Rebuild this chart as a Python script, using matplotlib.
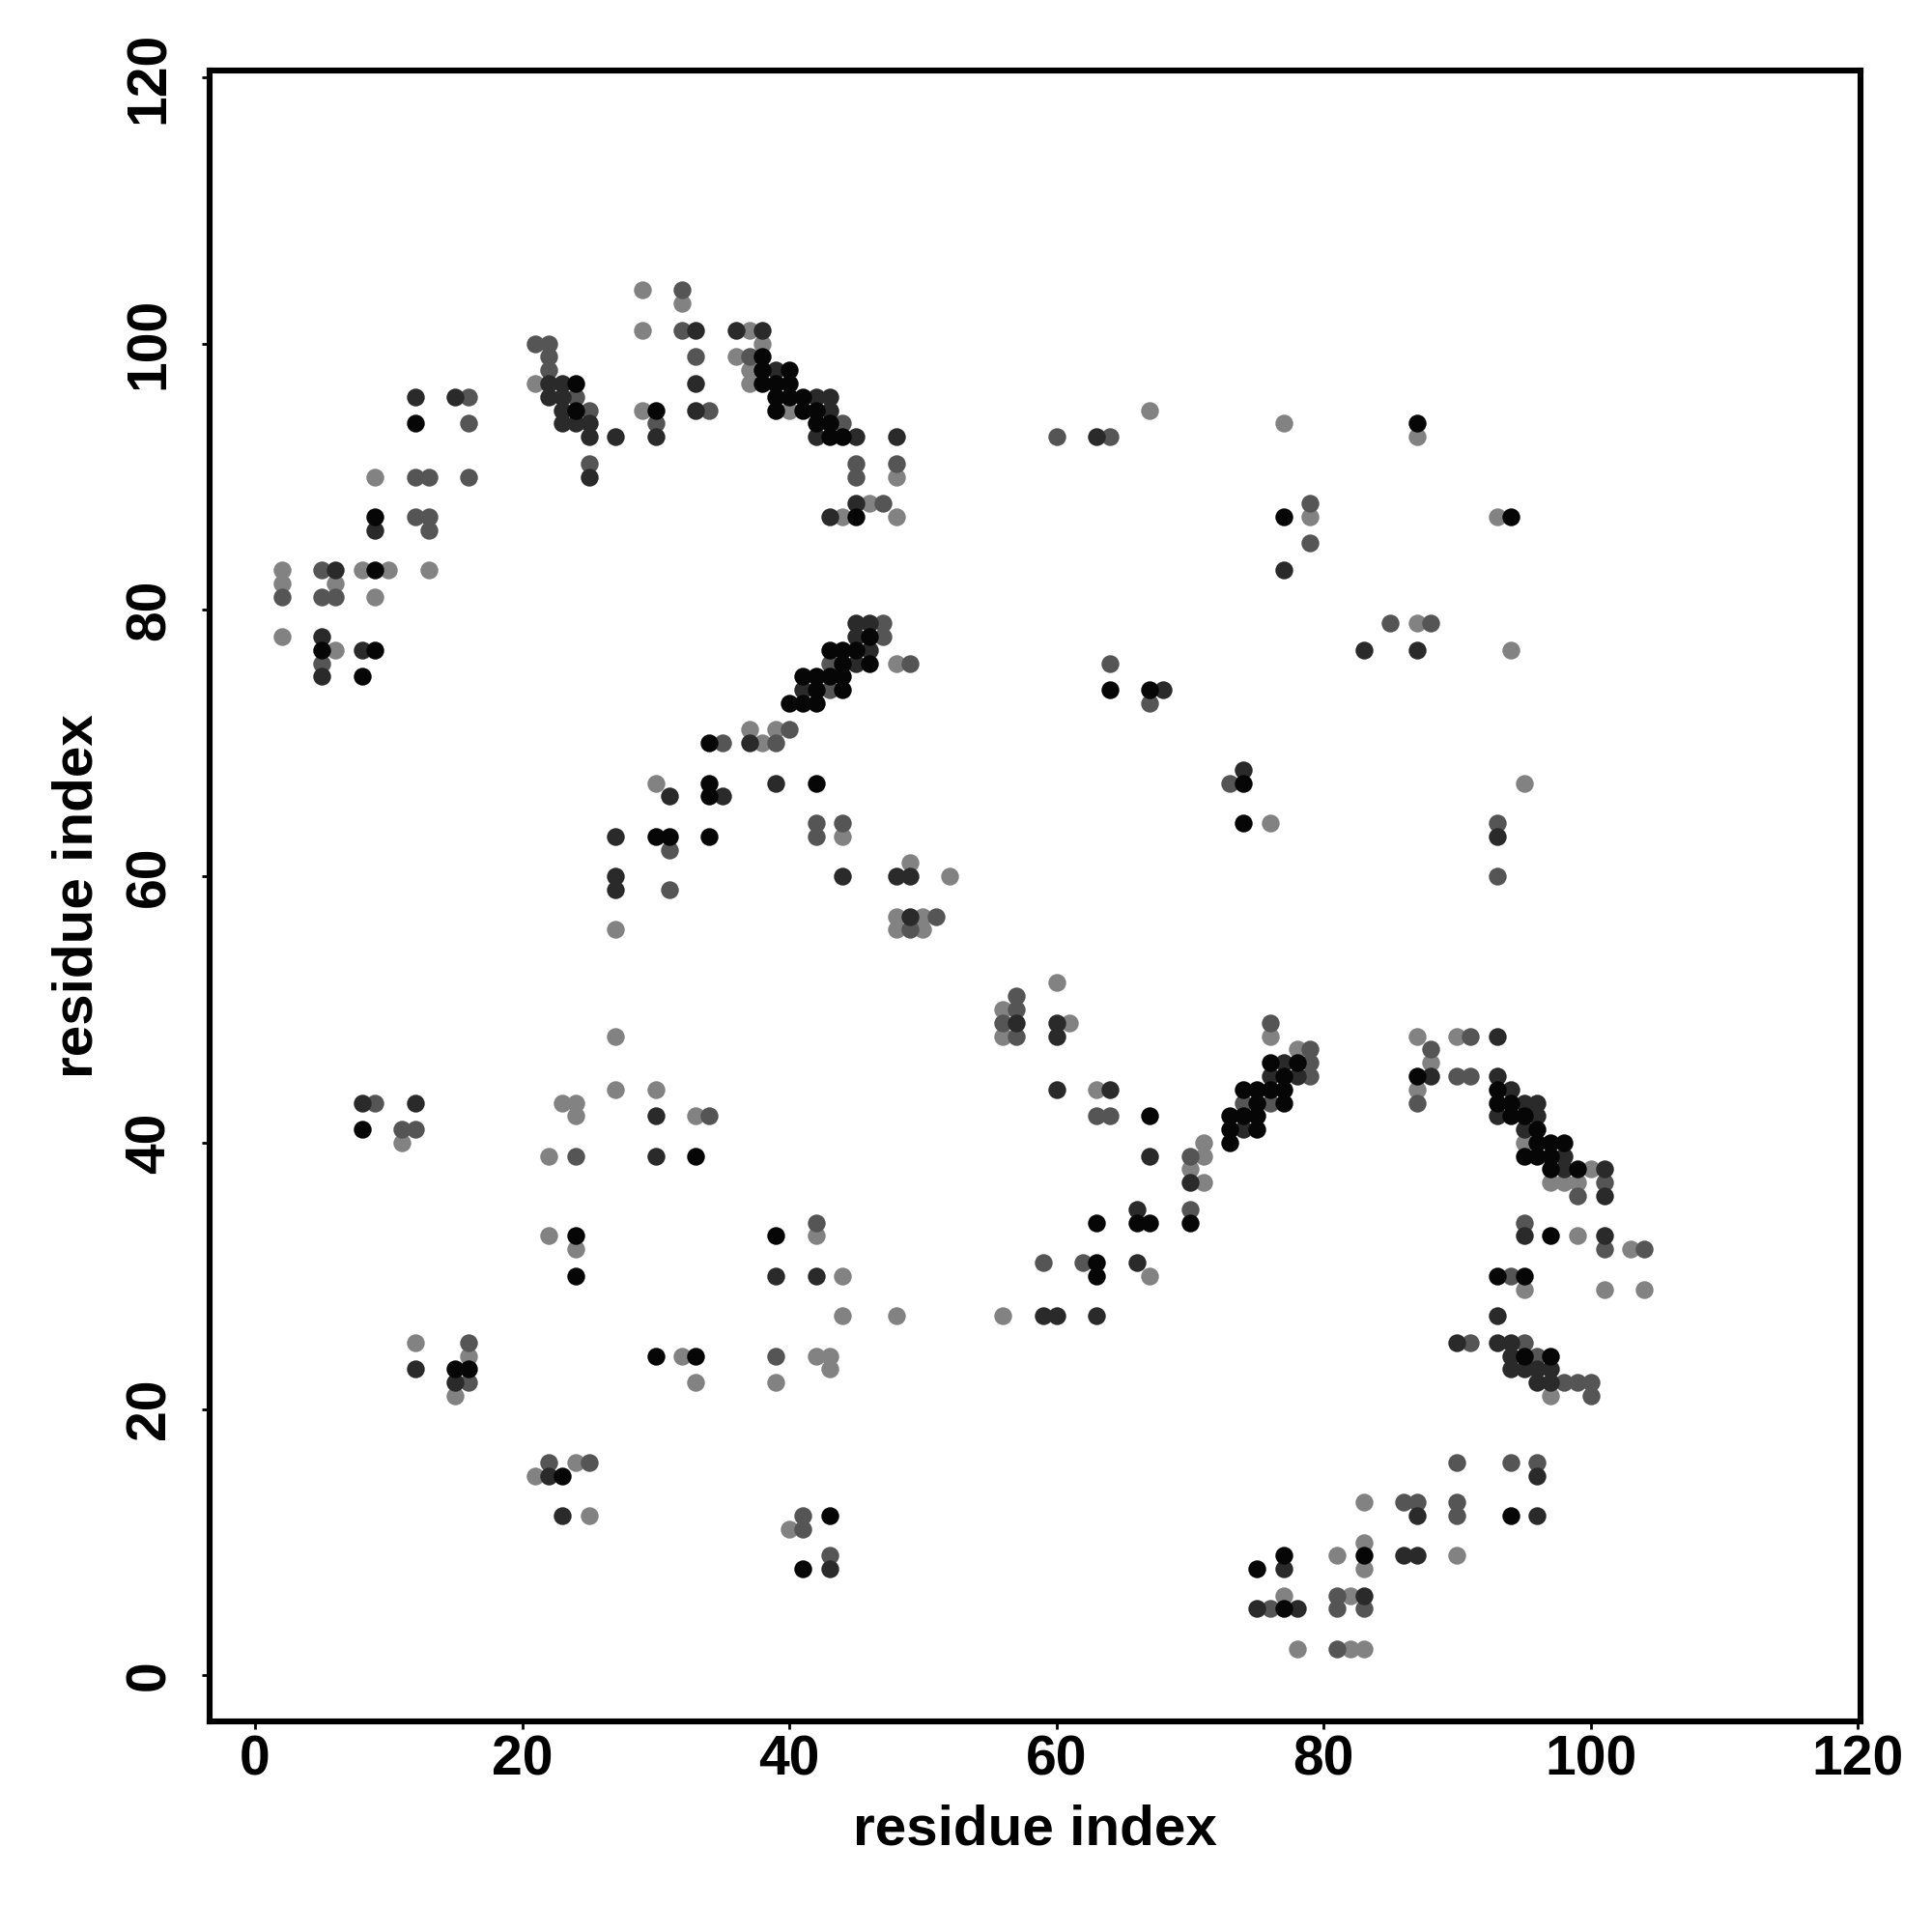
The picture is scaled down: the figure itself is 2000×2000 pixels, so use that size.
import matplotlib
matplotlib.use("Agg")
import matplotlib.pyplot as plt

# contact map points, grouped by shade (x residue, y residue)
black_pts = [(30,95),(24,97),(24,95),(12,94),(9,87),(9,83),(5,77),(9,77),(8,75),
    (38,99),(38,98),(40,98),(38,97),(39,97),(40,97),(39,96),(40,96),(41,96),(39,95),
    (41,95),(42,95),(42,94),(43,94),(43,93),(44,93),(45,87),(46,78),(43,77),(44,77),
    (45,77),(44,76),(46,76),(41,75),(42,75),(43,75),(44,75),(42,74),(44,74),(40,73),
    (41,73),(42,73),(64,74),(67,74),(87,94),(77,87),(94,87),
    (34,70),(34,67),(34,66),(42,67),(30,63),(31,63),(34,63),(33,39),(8,41),(67,42),
    (74,67),(74,64),(76,46),(78,46),(77,45),(74,44),(75,44),(76,44),(77,44),(75,43),
    (77,43),(73,42),(74,42),(75,42),(73,41),(75,41),(73,40),(87,45),(93,44),(93,43),
    (94,43),(94,42),(95,42),(96,41),(96,40),(97,40),(98,40),(95,39),(96,39),(97,39),
    (97,38),(99,38),
    (24,33),(24,30),(15,23),(16,23),(30,24),(33,24),(23,15),
    (39,33),(63,31),(63,30),(63,34),(66,34),(67,34),(70,34),(43,12),(41,8),
    (97,33),(93,30),(95,30),(95,24),(97,24),(94,12),(77,9),(75,8),(83,9),(77,5)]

dark_pts = [(33,101),(33,97),(30,93),(33,95),(22,97),(23,97),(22,96),(23,96),(23,95),
    (23,94),(24,94),(25,94),(25,93),(27,93),(25,90),(12,96),(15,96),(9,86),(6,83),
    (5,78),(5,75),(8,77),
    (36,101),(38,101),(39,98),(42,96),(43,96),(43,95),(42,93),(45,93),(48,93),(45,88),
    (43,87),(63,93),(45,79),(46,79),(45,78),(46,77),(45,76),(41,74),(68,74),
    (77,83),(83,77),(87,77),
    (37,70),(31,66),(35,66),(39,67),(27,63),(27,60),(27,59),(30,42),(30,39),(8,43),
    (12,43),(44,60),(48,60),(49,60),(49,57),(57,49),(60,49),(60,48),(60,44),(64,44),
    (67,39),(70,37),
    (74,68),(93,63),(77,46),(76,45),(78,45),(74,41),(88,45),(93,48),(93,45),(94,44),
    (95,43),(96,43),(93,42),(96,42),(95,41),(98,39),(98,38),(101,38),(101,36),
    (12,23),(15,22),(22,15),(23,12),
    (39,30),(42,30),(59,27),(60,27),(63,27),(66,31),(66,35),(43,8),
    (95,33),(101,33),(93,27),(90,25),(93,25),(94,25),(94,24),(94,23),(95,23),(96,23),
    (97,23),(96,22),(97,22),(96,15),(87,12),(96,12),(77,8),(86,9),(87,9),(75,5),(78,5),
    (83,6)]

mid_pts = [(32,104),(32,101),(33,99),(30,94),(34,95),(21,100),(22,100),(22,99),(22,98),
    (24,96),(25,95),(25,91),(16,96),(16,94),(12,90),(13,90),(16,90),(12,87),(13,87),
    (13,86),(2,81),(5,83),(5,81),(6,81),(5,76),
    (37,99),(44,94),(45,91),(45,90),(48,91),(47,88),(60,93),(64,93),(47,79),(47,78),
    (43,76),(49,76),(43,74),(40,71),(64,76),(67,73),
    (79,88),(79,85),(85,79),(88,79),
    (35,70),(39,70),(31,62),(31,59),(34,42),(24,39),(9,43),(11,41),(12,41),(42,64),
    (42,63),(44,64),(51,57),(49,56),(57,51),(57,50),(56,49),(57,48),(63,42),(64,42),
    (70,39),
    (73,67),(93,64),(93,60),(76,49),(79,47),(79,46),(79,45),(74,43),(76,43),(70,35),
    (88,47),(87,43),(91,48),(90,45),(91,45),(101,37),(99,36),
    (16,25),(16,22),(22,16),(25,16),
    (42,34),(59,31),(62,31),(39,24),(41,12),(41,11),(43,9),
    (95,34),(101,32),(104,32),(94,30),(91,25),(95,25),(96,24),(98,22),(99,22),(100,22),
    (100,21),(90,16),(94,16),(96,16),(86,13),(87,13),(90,13),(90,12),(76,5),(81,6),
    (81,5),(83,5),(81,2)]

light_pts = [(29,104),(32,103),(29,101),(29,95),(21,97),(9,90),(2,83),(2,82),(6,82),
    (8,83),(10,83),(13,83),(9,81),(2,78),(6,77),
    (37,101),(38,100),(36,99),(37,98),(37,97),(40,95),(48,90),(46,88),(44,87),(48,87),
    (67,95),(48,76),(37,71),(39,71),
    (77,94),(87,93),(79,87),(93,87),(87,79),(94,77),
    (38,70),(30,67),(27,56),(27,48),(27,44),(30,44),(33,42),(23,43),(24,43),(24,42),
    (22,39),(11,40),(44,63),(49,61),(52,60),(48,57),(50,57),(48,56),(50,56),(60,52),
    (56,50),(56,48),(61,49),(63,44),(70,38),
    (76,64),(95,67),(76,48),(78,47),(71,40),(71,39),(71,37),(87,48),(88,46),(87,44),
    (90,48),(95,40),(100,38),(97,37),(98,37),(99,37),
    (22,33),(24,32),(12,25),(16,24),(15,21),(32,24),(33,22),(24,16),(21,15),(25,12),
    (42,33),(44,30),(44,27),(48,27),(56,27),(67,30),(42,24),(43,24),(43,23),(39,22),
    (40,11),
    (99,33),(103,32),(95,29),(101,29),(104,29),(97,21),(83,13),(81,9),(83,10),(83,8),
    (90,9),(77,6),(82,6),(78,2),(82,2),(83,2)]

shades = {'#828282': light_pts, '#555555': mid_pts, '#2a2a2a': dark_pts, '#060606': black_pts}

plt.rcParams['font.family'] = ['Liberation Sans', 'DejaVu Sans']
plt.rcParams['font.weight'] = 'bold'

fig = plt.figure(figsize=(10, 10), dpi=200)
ax = fig.add_axes([0.1085, 0.109, 0.8545, 0.8545])

for col, pts in shades.items():
    xs = [p[0] for p in pts]
    ys = [p[1] for p in pts]
    ax.scatter(xs, ys, s=44, c=col, linewidths=0, zorder=3)

ax.set_xlim(-3.4, 120.2)
ax.set_ylim(-3.45, 120.5)
ax.set_xticks(range(0, 121, 20))
ax.set_yticks(range(0, 121, 20))
for sp in ax.spines.values():
    sp.set_linewidth(2.2)
ax.tick_params(axis='both', direction='out', length=3, width=1, labelsize=20.5)
ax.tick_params(axis='x', pad=2)
ax.tick_params(axis='y', pad=9.5)
for lab in ax.get_yticklabels():
    lab.set_rotation(90)
    lab.set_va('center')

ax.set_xlabel('residue index', fontsize=21, fontweight='bold')
ax.set_ylabel('residue index', fontsize=21, fontweight='bold')
ax.xaxis.set_label_coords(0.5, -0.05)
ax.yaxis.set_label_coords(-0.064, 0.5)

fig.savefig('out.png', dpi=200)
